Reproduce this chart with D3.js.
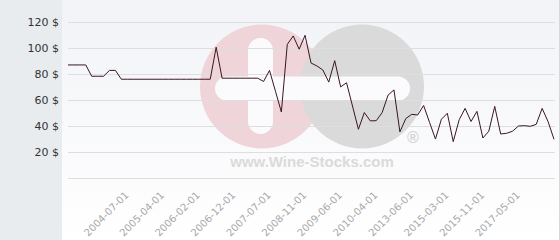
<!DOCTYPE html>
<html>
<head>
<meta charset="utf-8">
<script src="https://cdn.jsdelivr.net/npm/d3@7"></script>
<style>
  body { margin: 0; background: #fff; }
  #chart svg { display: block; }
  .y-axis text { font-family: "DejaVu Sans", sans-serif; font-size: 11px; fill: #333; }
  .x-axis text { font-family: "DejaVu Sans", sans-serif; font-size: 10px; fill: #a8a8a8; }
</style>
</head>
<body>
<div id="chart"></div>
<script>
// DATA
// price per bottle, one value per quote (equally spaced on the axis)
const prices = [
  87.2, 87.2, 87.2, 87.2, 78.5, 78.5, 78.5, 83, 83,
  76.2, 76.2, 76.2, 76.2, 76.2, 76.2, 76.2, 76.2, 76.2, 76.2, 76.2, 76.2, 76.2, 76.2, 76.2, 76.2,
  100.8,
  77, 77, 77, 77, 77, 77, 77,
  74.5, 83, 67, 51, 103, 109.5, 99.3, 110, 88.7, 86.4, 83.3, 74, 90.5, 70.3, 73.5,
  55.6, 37.7, 50.6, 44.2, 44.3, 50.5, 64, 68, 35.7, 46, 49.2, 48.7, 56, 43, 30.2,
  45.4, 50, 28.2, 45, 53.8, 43.7, 51.5, 31, 36.2, 55.3, 34.1, 34.6, 36.2, 40.2,
  40.5, 40, 41.5, 53.8, 43.6, 30
];

// labelled quotes on the x axis
const tickIndex = [9, 15, 21, 27, 33, 39, 45, 51, 57, 63, 69, 75];
const tickLabels = [
  "2004-07-01", "2005-04-01", "2006-02-01", "2006-12-01", "2007-07-01", "2008-11-01",
  "2009-06-01", "2010-04-01", "2013-06-01", "2015-03-01", "2015-11-01", "2017-05-01"
];

const yTicks = [0, 20, 40, 60, 80, 100, 120];

// LAYOUT
const width = 560, height = 240;
const panelW = 62;
const plot = { left: 68, right: 554, top: 22.3, bottom: 178.3 };

const svg = d3.select("#chart").append("svg")
  .attr("width", width)
  .attr("height", height);

// background: grey label panel + light gradient plot area
const defs = svg.append("defs");
const grad = defs.append("linearGradient")
  .attr("id", "plot-bg")
  .attr("x1", 0).attr("y1", 0).attr("x2", 0).attr("y2", 1);
grad.append("stop").attr("offset", "0%").attr("stop-color", "#f2f3f7");
grad.append("stop").attr("offset", "100%").attr("stop-color", "#ffffff");

svg.append("rect")
  .attr("x", 0).attr("y", 0)
  .attr("width", panelW).attr("height", height)
  .attr("fill", "#e8ecef");

svg.append("rect")
  .attr("x", panelW).attr("y", 0)
  .attr("width", width - panelW).attr("height", height)
  .attr("fill", "url(#plot-bg)");

svg.append("line")
  .attr("x1", width - 0.5).attr("x2", width - 0.5)
  .attr("y1", 0).attr("y2", height)
  .attr("stroke", "#d8d8d8");

// watermark logo
const wm = svg.append("g").attr("class", "watermark");
wm.append("circle").attr("cx", 262).attr("cy", 86.5).attr("r", 62).attr("fill", "#efd5da");
wm.append("circle").attr("cx", 362).attr("cy", 86.5).attr("r", 62).attr("fill", "#dadada");
wm.append("rect").attr("x", 248).attr("y", 38).attr("width", 25).attr("height", 96)
  .attr("rx", 12.5).attr("fill", "#fbfbfd");
wm.append("rect").attr("x", 215).attr("y", 76.5).attr("width", 195).attr("height", 24)
  .attr("rx", 12).attr("fill", "#fbfbfd");
wm.append("text")
  .attr("x", 312).attr("y", 166.5)
  .attr("text-anchor", "middle")
  .attr("font-family", "'Liberation Sans', Arial, sans-serif")
  .attr("font-weight", "bold")
  .attr("font-size", "15px")
  .attr("fill", "#dadada")
  .text("www.Wine-Stocks.com");
wm.append("text")
  .attr("x", 413).attr("y", 143)
  .attr("text-anchor", "middle")
  .attr("font-family", "'Liberation Sans', Arial, sans-serif")
  .attr("font-weight", "bold")
  .attr("font-size", "16px")
  .attr("fill", "#d4d4d4")
  .text("\u00ae");

// SCALES
const xScale = d3.scaleLinear()
  .domain([0, prices.length - 1])
  .range([plot.left, plot.right]);

const yScale = d3.scaleLinear()
  .domain([0, 120])
  .range([plot.bottom, plot.top]);

// gridlines
svg.append("g")
  .attr("class", "grid")
  .selectAll("line")
  .data(yTicks)
  .join("line")
    .attr("x1", plot.left)
    .attr("x2", plot.right + 1)
    .attr("y1", d => Math.round(yScale(d)) + 0.5)
    .attr("y2", d => Math.round(yScale(d)) + 0.5)
    .attr("stroke", "#dedede")
    .attr("stroke-width", 1);

// y axis (labels only)
const yAxis = d3.axisLeft(yScale)
  .tickValues(yTicks.filter(d => d > 0))
  .tickSize(0)
  .tickPadding(0)
  .tickFormat(d => `${d} $`);
const yAxisG = svg.append("g")
  .attr("class", "y-axis")
  .attr("transform", `translate(59, 0)`)
  .call(yAxis);
yAxisG.select(".domain").remove();

// x axis (rotated labels only)
const xAxis = d3.axisBottom(xScale)
  .tickValues(tickIndex)
  .tickSize(0)
  .tickPadding(0)
  .tickFormat((d, i) => tickLabels[i]);
const xAxisG = svg.append("g")
  .attr("class", "x-axis")
  .attr("transform", `translate(0, ${plot.bottom + 15})`)
  .call(xAxis);
xAxisG.select(".domain").remove();
xAxisG.selectAll("text")
  .attr("y", 0)
  .attr("dy", "0.35em")
  .attr("x", 0)
  .attr("text-anchor", "end")
  .attr("transform", "translate(5,0) rotate(-45)");

// price line
const lineGenerator = d3.line()
  .x((d, i) => xScale(i))
  .y(d => yScale(d));

svg.append("path")
  .attr("class", "chart-path")
  .attr("fill", "none")
  .attr("stroke", "#3a1620")
  .attr("stroke-width", 1)
  .attr("stroke-linejoin", "round")
  .attr("d", lineGenerator(prices));
</script>
</body>
</html>
